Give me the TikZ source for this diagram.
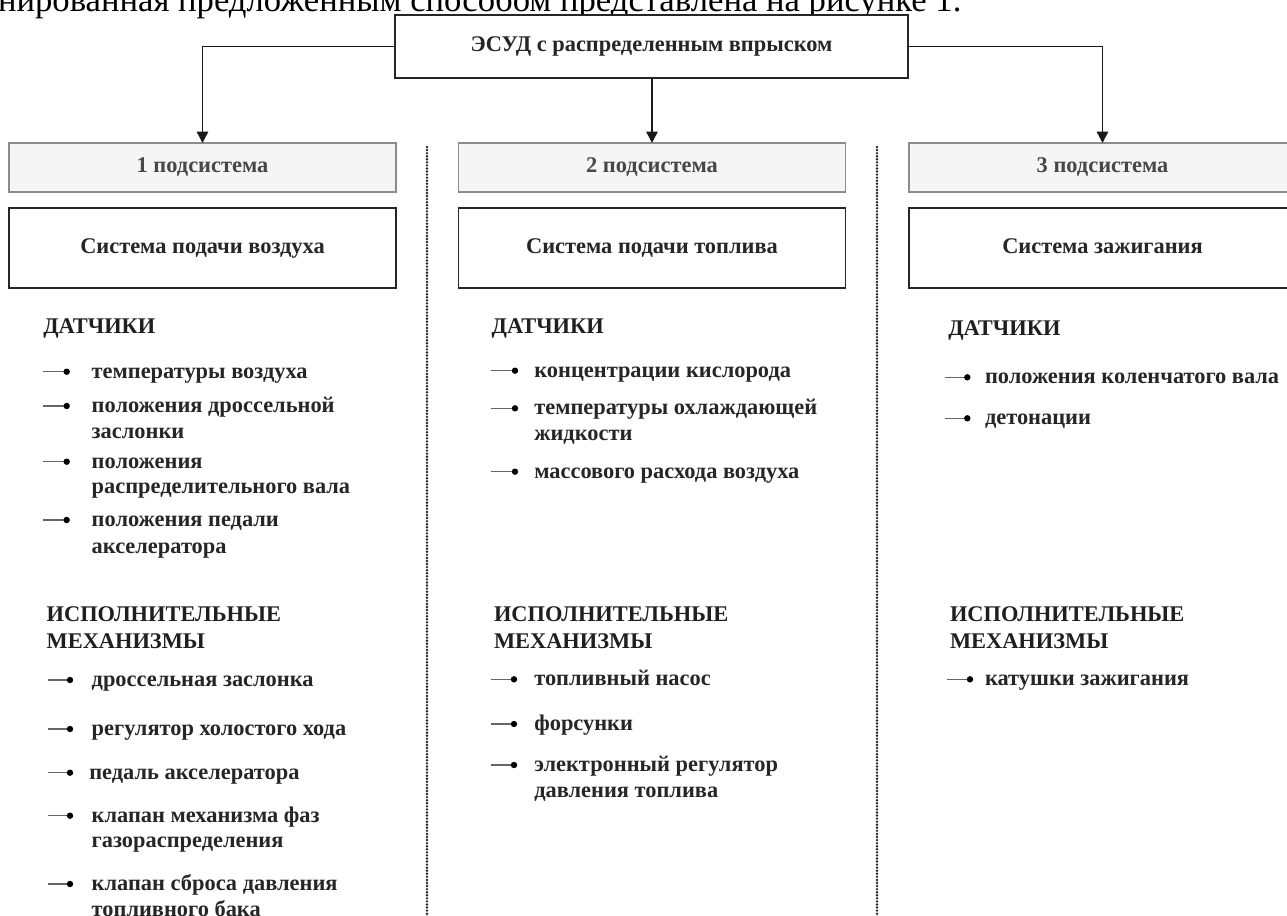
\documentclass[tikz,border=0pt]{standalone}
\usepackage{fontspec}
\setmainfont{Liberation Serif}
\usetikzlibrary{arrows.meta}
\newcommand\bul[3]{\draw[bulline] (#1,#3) -- (#2,#3); \fill[black] (#2,#3) circle[radius=2.4pt];}
\newcommand\twoline[3][19.2pt]{\vtop{\baselineskip=#1\relax\hbox{#2}\hbox{#3}}}
\begin{document}
\begin{tikzpicture}[x=0.75pt,y=-0.75pt,
  base/.style={inner sep=0pt, outer sep=0pt},
  boxtext/.style={text height=11.5pt, text depth=4pt, font=\bfseries\fontsize{16.8pt}{19pt}\selectfont},
  topbox/.style={base, boxtext, draw=black!85, line width=1.1pt, fill=white, minimum width=384.75pt, minimum height=47.25pt, text=black!85},
  subbox/.style={base, boxtext, draw=black!45, line width=1.1pt, fill=black!4, minimum width=290.25pt, minimum height=36.75pt, text=black!72},
  sysbox/.style={base, boxtext, draw=black!85, line width=1.1pt, fill=white, minimum width=290.25pt, minimum height=60pt, text=black!85},
  hdr/.style={base, anchor=base west, font=\bfseries\fontsize{16.8pt}{20pt}\selectfont, text=black!88},
  itm/.style={base, anchor=base west, font=\bfseries\fontsize{16.8pt}{19.2pt}\selectfont, text=black!85},
  arr/.style={line width=1.15pt, draw=black!90, -{Triangle[length=8.5pt,width=8.5pt]}},
  dotline/.style={line width=2pt, draw=black!85, line cap=round, dash pattern=on 0pt off 2.3pt},
  bulline/.style={line width=0.8pt, draw=black!60}
]
\useasboundingbox (0,0) rectangle (1287,916);
% partial paragraph line at the top
\node[base, anchor=base west, font=\fontsize{26pt}{30pt}\selectfont] (para) at (-2,12) {нированная предложенным способом представлена на рисунке 1.};

% top box
\node[topbox] (top) at (651.5,46.5) {ЭСУД с распределенным впрыском};

% subsystem boxes
\node[subbox] (s1) at (202.5,167.5) {1 подсистема};
\node[subbox] (s2) at (652,167.5) {2 подсистема};
\node[subbox] (s3) at (1102.5,167.5) {3 подсистема};

\node[sysbox] (b1) at (202.5,248) {Система подачи воздуха};
\node[sysbox] (b2) at (652,248) {Система подачи топлива};
\node[sysbox] (b3) at (1102.5,248) {Система зажигания};

% connectors
\draw[arr] (top.west) -| (s1.north);
\draw[arr] (top.east) -| (s3.north);
\draw[arr] (top.south -| s2.north) -- (s2.north);

% dotted separators
\draw[dotline] (427,147) -- (427,918);
\draw[dotline] (877,147) -- (877,918);

% ---------- column 1 ----------
\node[hdr] (h1a) at (43.3,333.3) {ДАТЧИКИ};
\bul{43.3}{66.7}{371.7}
\node[itm] (c1s1) at (91.7,378.2) {температуры воздуха};
\bul{43.3}{66.7}{406}
\node[itm] (c1s2) at (91.7,412.5) {\twoline{положения дроссельной}{заслонки}};
\bul{43.3}{66.7}{461.7}
\node[itm] (c1s3) at (91.7,468.2) {\twoline{положения}{распределительного вала}};
\bul{43.3}{66.7}{520}
\node[itm] (c1s4) at (91.7,526.5) {\twoline[20pt]{положения педали}{акселератора}};

\node[hdr] (h1b) at (46.7,621.7) {\twoline[20pt]{ИСПОЛНИТЕЛЬНЫЕ}{МЕХАНИЗМЫ}};
\bul{47.7}{70}{680}
\node[itm] (c1a1) at (91.7,686.5) {дроссельная заслонка};
\bul{47.7}{70}{729}
\node[itm] (c1a2) at (91.7,735.5) {регулятор холостого хода};
\bul{47.7}{70}{772.7}
\node[itm] (c1a3) at (89.3,779.2) {педаль акселератора};
\bul{47.7}{70}{815.7}
\node[itm] (c1a4) at (91.7,822.2) {\twoline{клапан механизма фаз}{газораспределения}};
\bul{47.7}{70}{884}
\node[itm] (c1a5) at (91.7,890.5) {\twoline{клапан сброса давления}{топливного бака}};

% ---------- column 2 ----------
\node[hdr] (h2a) at (491.7,333.3) {ДАТЧИКИ};
\bul{490.7}{515}{370.7}
\node[itm] (c2s1) at (534.3,377.2) {концентрации кислорода};
\bul{490.7}{515}{408.3}
\node[itm] (c2s2) at (534.3,414.8) {\twoline{температуры охлаждающей}{жидкости}};
\bul{490.7}{515}{471.7}
\node[itm] (c2s3) at (534.3,478.2) {массового расхода воздуха};

\node[hdr] (h2b) at (494,621.7) {\twoline[20pt]{ИСПОЛНИТЕЛЬНЫЕ}{МЕХАНИЗМЫ}};
\bul{490.7}{514}{679.3}
\node[itm] (c2a1) at (534.3,685.8) {топливный насос};
\bul{490.7}{514}{724}
\node[itm] (c2a2) at (534.3,730.5) {форсунки};
\bul{490.7}{514}{765}
\node[itm] (c2a3) at (534.3,771.5) {\twoline{электронный регулятор}{давления топлива}};

% ---------- column 3 ----------
\node[hdr] (h3a) at (948.3,335) {ДАТЧИКИ};
\bul{945}{967.3}{377.3}
\node[itm] (c3s1) at (985,383.8) {положения коленчатого вала};
\bul{945}{967.3}{418.3}
\node[itm] (c3s2) at (985,424.8) {детонации};

\node[hdr] (h3b) at (950,621.7) {\twoline[20pt]{ИСПОЛНИТЕЛЬНЫЕ}{МЕХАНИЗМЫ}};
\bul{947.3}{970}{679.3}
\node[itm] (c3a1) at (985,685.8) {катушки зажигания};
\end{tikzpicture}
\end{document}
